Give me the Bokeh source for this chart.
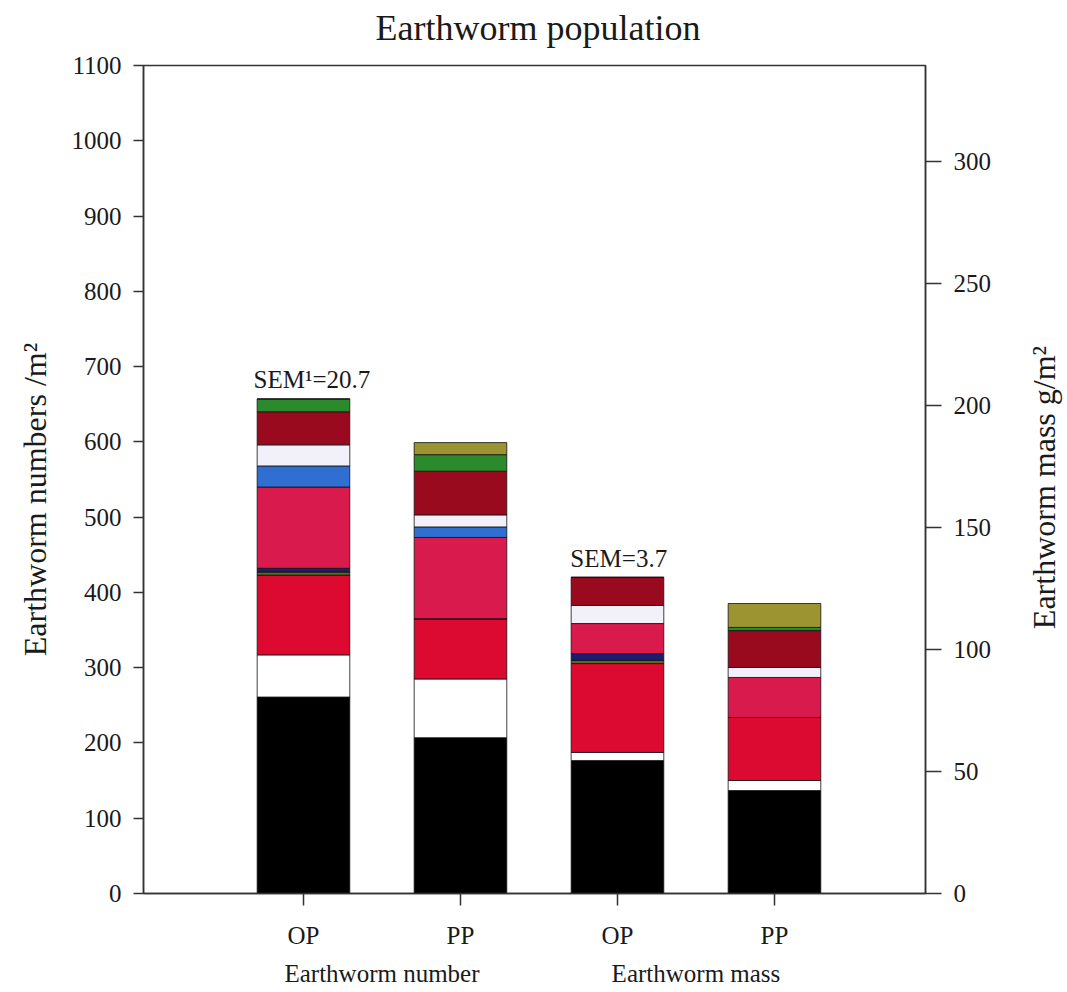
import math
from bokeh.plotting import figure
from bokeh.layouts import row, column
from bokeh.models import (ColumnDataSource, Range1d, LinearAxis, FixedTicker, Label)
from bokeh.embed import file_html
from bokeh.resources import INLINE

# ---------------- data ----------------
groups = ["OP", "PP"]
segments = ["s1", "s2", "s3", "s4", "s5", "s6", "s7", "s8", "s9", "s10", "s11"]
seg_colors = ["#000000", "#ffffff", "#dc0a30", "#5a6a1e", "#1c1c70", "#d81a4c",
              "#2f6fd2", "#f2f0f8", "#9a0a1e", "#2b8a2b", "#9c9430"]

# Earthworm numbers /m2 (OP, PP)
num_s1 = [261, 207]
num_s2 = [56, 78]
num_s3 = [106, 80]
num_s4 = [4, 0]
num_s5 = [5, 0]
num_s6 = [108, 108]
num_s7 = [28, 14]
num_s8 = [28, 16]
num_s9 = [44, 58]
num_s10 = [17, 22]
num_s11 = [0, 16]

# Earthworm mass g/m2 (OP, PP)
mass_s1 = [54.5, 42.2]
mass_s2 = [3.3, 4.1]
mass_s3 = [36.4, 25.8]
mass_s4 = [1.3, 0]
mass_s5 = [2.8, 0]
mass_s6 = [12.3, 16.4]
mass_s7 = [0, 0]
mass_s8 = [7.4, 4.1]
mass_s9 = [11.5, 15.1]
mass_s10 = [0, 1.3]
mass_s11 = [0, 9.8]

num_x = [0, 1]
mass_x = [2, 3]
tick_labels = ["OP", "PP", "OP", "PP"]
group_x = [0.5, 2.5]
group_labels = ["Earthworm number", "Earthworm mass"]
sem_texts = ["SEM\u00b9=20.7", "SEM=3.7"]
title_text = "Earthworm population"
left_label = "Earthworm numbers /m\u00b2"
right_label = "Earthworm mass g/m\u00b2"

FONT = "Liberation Serif"
INK = "#1a1a1a"
AX = "#333333"
TITLE_H = 48
MAIN_W = 1025  # 143 + 782 + 100
TOTAL_H = 988  # 48 + (17 + 828 + 95)

num_src = ColumnDataSource(dict(x=num_x, s1=num_s1, s2=num_s2, s3=num_s3, s4=num_s4,
                                s5=num_s5, s6=num_s6, s7=num_s7, s8=num_s8, s9=num_s9,
                                s10=num_s10, s11=num_s11))
mass_src = ColumnDataSource(dict(x=mass_x, s1=mass_s1, s2=mass_s2, s3=mass_s3, s4=mass_s4,
                                 s5=mass_s5, s6=mass_s6, s7=mass_s7, s8=mass_s8, s9=mass_s9,
                                 s10=mass_s10, s11=mass_s11))

p = figure(frame_width=782, frame_height=828,
           x_range=Range1d(-1.019, 3.962), y_range=Range1d(0, 1100),
           output_backend="svg", toolbar_location=None,
           min_border_left=143, min_border_right=100, min_border_top=17, min_border_bottom=95)
p.extra_y_ranges = {"mass": Range1d(0, 339.2)}

p.vbar_stack(segments, x="x", width=0.59, source=num_src, color=seg_colors,
             line_color="#111111", line_width=0.8)
p.vbar_stack(segments, x="x", width=0.59, source=mass_src, color=seg_colors,
             line_color="#111111", line_width=0.8, y_range_name="mass")

p.xgrid.visible = False
p.ygrid.visible = False
p.outline_line_color = AX
p.outline_line_width = 1.5
p.background_fill_color = "white"
p.border_fill_color = "white"


def style_axis(ax, tick_out, standoff):
    ax.major_tick_out = tick_out
    ax.major_tick_in = 0
    ax.minor_tick_line_color = None
    ax.major_label_standoff = standoff
    ax.major_label_text_font = FONT
    ax.major_label_text_font_size = "25px"
    ax.major_label_text_color = INK
    ax.axis_line_color = AX
    ax.axis_line_width = 1.5
    ax.major_tick_line_color = AX
    ax.major_tick_line_width = 1.5
    ax.axis_label_text_font = FONT
    ax.axis_label_text_font_size = "32px"
    ax.axis_label_text_font_style = "normal"
    ax.axis_label_text_color = INK


# left axis
ya = p.yaxis[0]
ya.ticker = FixedTicker(ticks=list(range(0, 1101, 100)))
style_axis(ya, 10, 12)
ya.axis_label = left_label + "\u00a0" * 5
ya.axis_label_standoff = 16

# right axis (label drawn in a side panel so that it reads bottom-to-top)
ra = LinearAxis(y_range_name="mass", ticker=FixedTicker(ticks=list(range(0, 301, 50))))
style_axis(ra, 16, 12)
p.add_layout(ra, "right")

# bottom axis
xa = p.xaxis[0]
xa.ticker = FixedTicker(ticks=num_x + mass_x)
xa.major_label_overrides = {t: lab for t, lab in zip(num_x + mass_x, tick_labels)}
style_axis(xa, 12, 16)

# group labels axis (below)
ga = LinearAxis(ticker=FixedTicker(ticks=group_x))
ga.major_label_overrides = {t: lab for t, lab in zip(group_x, group_labels)}
style_axis(ga, 0, 8)
ga.axis_line_color = None
ga.major_tick_line_color = None
p.add_layout(ga, "below")


def add_label(fig, x, y, text, size, align="left", baseline="alphabetic", angle=0.0):
    lab = Label(x=x, y=y, text=text, text_font=FONT, text_font_size=size,
                text_align=align, text_baseline=baseline, angle=angle,
                text_color=INK)
    fig.add_layout(lab)


# SEM annotations
add_label(p, -0.318, 683, sem_texts[0], "25px")
add_label(p, 1.70, 445, sem_texts[1], "25px")


def blank_fig(w, h):
    f = figure(width=w, height=h, x_range=Range1d(0, w), y_range=Range1d(0, h),
               output_backend="svg", toolbar_location=None, min_border=0)
    f.axis.visible = False
    f.xgrid.visible = False
    f.ygrid.visible = False
    f.outline_line_color = None
    f.background_fill_color = "white"
    f.border_fill_color = "white"
    return f


# top panel holding the chart title
top = blank_fig(MAIN_W, TITLE_H)
add_label(top, 517, TITLE_H - 27, title_text, "36px", align="center", baseline="middle")

# side panel holding the right axis title (reads bottom-to-top)
side = blank_fig(40, TOTAL_H)
add_label(side, 18, TOTAL_H - 487, right_label, "32px", align="center",
          baseline="middle", angle=math.pi / 2)

layout = row(column(top, p), side)
open("out.html", "w").write(file_html(layout, INLINE))
